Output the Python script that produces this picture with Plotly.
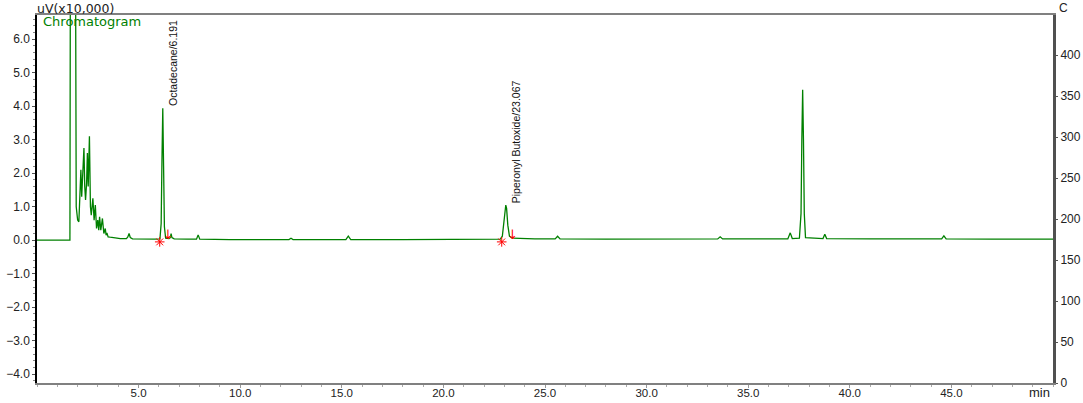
import plotly.graph_objects as go

# ---- data ----
time_min = [
    0.0, 1.62, 1.64, 1.90, 1.93, 2.00, 2.06, 2.12, 2.16, 2.20,
    2.25, 2.31, 2.35, 2.39, 2.44, 2.48, 2.52, 2.58, 2.63, 2.67,
    2.75, 2.81, 2.87, 2.93, 2.99, 3.04, 3.08, 3.14, 3.22, 3.29,
    3.36, 3.40, 3.44, 3.50, 3.60, 3.80, 4.10, 4.40, 4.47, 4.53,
    4.59, 4.70, 5.20, 5.80, 6.05, 6.11, 6.15, 6.19, 6.23, 6.27,
    6.33, 6.50, 6.56, 6.60, 6.64, 6.75, 7.40, 7.85, 7.93, 8.01,
    9.50, 11.0, 12.40, 12.50, 12.60, 14.0, 15.20, 15.32, 15.44, 18.0,
    20.5, 22.80, 22.90, 22.97, 23.03, 23.07, 23.11, 23.17, 23.25, 23.40,
    24.5, 25.50, 25.62, 25.74, 28.0, 30.5, 33.50, 33.62, 33.74, 35.5,
    36.95, 37.07, 37.17, 37.52, 37.60, 37.64, 37.68, 37.72, 37.76, 37.82,
    38.68, 38.77, 38.86, 41.0, 44.52, 44.63, 44.74, 47.0, 50.0,
]
signal_x1e4 = [
    0.0, 0.0, 7.5, 7.5, 1.0, 0.6, 0.55, 1.4, 2.1, 1.3,
    1.9, 2.75, 1.6, 1.2, 1.7, 2.6, 1.6, 3.1, 1.0, 0.75,
    1.25, 0.6, 1.05, 0.35, 0.6, 0.3, 0.7, 0.3, 0.65, 0.2,
    0.35, 0.15, 0.22, 0.1, 0.09, 0.07, 0.05, 0.05, 0.1, 0.2,
    0.08, 0.04, 0.03, 0.03, 0.04, 0.5, 2.4, 3.94, 2.2, 0.4,
    0.06, 0.05, 0.08, 0.2, 0.08, 0.04, 0.03, 0.03, 0.16, 0.03,
    0.02, 0.02, 0.02, 0.06, 0.02, 0.02, 0.02, 0.12, 0.02, 0.02,
    0.02, 0.03, 0.12, 0.55, 0.95, 1.05, 0.95, 0.45, 0.12, 0.06,
    0.04, 0.04, 0.12, 0.04, 0.03, 0.03, 0.04, 0.1, 0.04, 0.04,
    0.04, 0.22, 0.05, 0.06, 0.8, 3.0, 4.49, 3.0, 0.8, 0.08,
    0.05, 0.18, 0.05, 0.04, 0.04, 0.13, 0.04, 0.03, 0.03,
]

peak_names = ["Octadecane", "Piperonyl Butoxide"]
peak_rt = [6.191, 23.067]
peak_height = [3.94, 1.05]
peak_start = [6.04, 22.87]
peak_end = [6.45, 23.40]

x_ticks = [5, 10, 15, 20, 25, 30, 35, 40, 45]
x_tick_labels = ["5.0", "10.0", "15.0", "20.0", "25.0", "30.0", "35.0", "40.0", "45.0"]
y_ticks = [-4, -3, -2, -1, 0, 1, 2, 3, 4, 5, 6]
y2_ticks = [0, 50, 100, 150, 200, 250, 300, 350, 400]

GREEN = "#008000"
SANS = "Liberation Sans, Arial, sans-serif"
TICK_FONT = dict(family=SANS, size=12, color="#222222")

fig = go.Figure()

fig.add_trace(go.Scatter(
    x=time_min, y=signal_x1e4, mode="lines",
    line=dict(color=GREEN, width=1.3),
    showlegend=False, hoverinfo="skip",
))

# peak start / end markers
fig.add_trace(go.Scatter(
    x=peak_start, y=[-0.05] * len(peak_start), mode="markers",
    marker=dict(symbol="asterisk-open", size=8, color="red", line=dict(color="red", width=1)),
    showlegend=False, hoverinfo="skip",
))
fig.add_trace(go.Scatter(
    x=peak_end, y=[0.14] * len(peak_end), mode="text", text=["↓"] * len(peak_end),
    textfont=dict(color="red", size=13, family="DejaVu Sans"),
    showlegend=False, hoverinfo="skip",
))

# dummy trace for the temperature axis
fig.add_trace(go.Scatter(x=[None], y=[None], yaxis="y2", showlegend=False, hoverinfo="skip"))

for name, rt, h in zip(peak_names, peak_rt, peak_height):
    fig.add_annotation(
        x=rt, y=h, xref="x", yref="y", text=f"{name}/{rt:.3f}",
        textangle=-90, showarrow=False, xanchor="left", yanchor="bottom",
        xshift=2, font=dict(family=SANS, size=10.5, color="#111111"),
    )

fig.add_annotation(
    xref="paper", yref="paper", x=0, y=1, xanchor="left", yanchor="middle",
    xshift=-2, yshift=7, text="uV(x10,000)", showarrow=False,
    font=dict(family="DejaVu Sans, sans-serif", size=12.5, color="#222222"),
)
fig.add_annotation(
    xref="paper", yref="paper", x=0.004, y=1, xanchor="left", yanchor="middle",
    yshift=-6, text="Chromatogram", showarrow=False,
    font=dict(family="DejaVu Sans, sans-serif", size=13, color=GREEN),
)
fig.add_annotation(
    xref="paper", yref="paper", x=1, y=1, xanchor="left", yanchor="middle",
    xshift=4, yshift=7, text="C", showarrow=False,
    font=dict(family=SANS, size=12, color="#222222"),
)
fig.add_annotation(
    xref="paper", yref="paper", x=0.987, y=0, xanchor="center", yanchor="middle",
    yshift=-9, text="min", showarrow=False,
    font=dict(family=SANS, size=13, color="#222222"),
)

fig.update_layout(
    width=1083, height=403,
    margin=dict(l=37, r=30, t=15, b=20, autoexpand=False),
    paper_bgcolor="white", plot_bgcolor="white",
    xaxis=dict(
        range=[0, 50], tickvals=x_ticks, ticktext=x_tick_labels,
        showgrid=False, zeroline=False, automargin=False,
        showline=True, linecolor="#808080", linewidth=1.5, mirror=True,
        ticks="outside", ticklen=3, tickcolor="#999999",
        minor=dict(dtick=1, tick0=0, ticks="outside", ticklen=2, tickcolor="#aaaaaa"),
        tickfont=dict(family=SANS, size=11.5, color="#222222"),
        ticklabelstandoff=-5,
    ),
    yaxis=dict(
        range=[-4.26, 6.72], tickvals=y_ticks, tickformat=".1f",
        showgrid=False, zeroline=False, automargin=False,
        showline=True, linecolor="black", linewidth=1.5,
        ticks="outside", ticklen=3, tickcolor="#555555",
        minor=dict(dtick=0.2, tick0=0, ticks="outside", ticklen=2, tickcolor="#888888"),
        tickfont=TICK_FONT,
    ),
    yaxis2=dict(
        range=[0, 449], tickvals=y2_ticks, overlaying="y", side="right",
        showgrid=False, zeroline=False, automargin=False,
        showline=True, linecolor="#505050", linewidth=3,
        ticks="outside", ticklen=2, tickcolor="#555555",
        tickfont=TICK_FONT,
    ),
)

fig.write_html(
    "out.html",
    config={"displayModeBar": False},
    post_script="document.body.style.margin='0';document.body.style.overflow='hidden';",
)
